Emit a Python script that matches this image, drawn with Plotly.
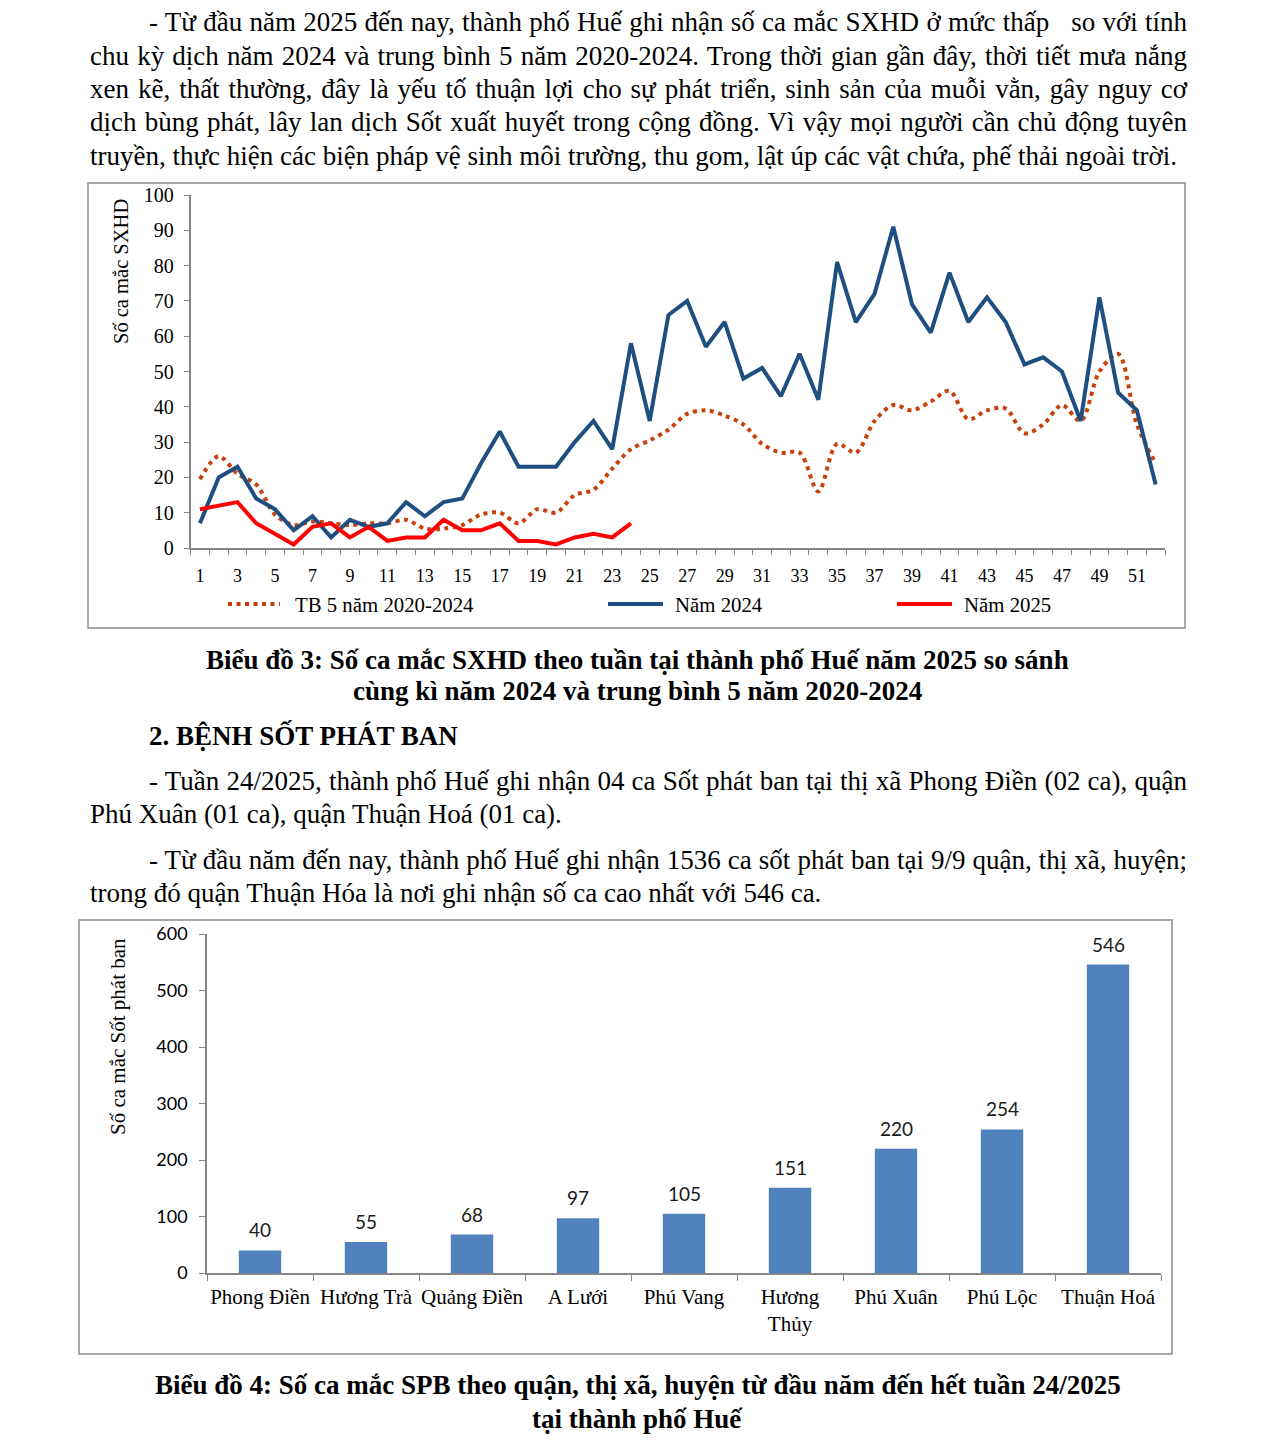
import json
import plotly.graph_objects as go

W, H = 1275, 1440

# ---------------- data ----------------
weeks = list(range(1, 53))
tb_5nam = [19.5, 26, 21, 18, 9.5, 6.5, 7.5, 7, 6.5, 7,
           7, 8, 5.5, 5.5, 6.5, 9.5, 10, 7, 11, 10,
           15, 16.5, 22.5, 28, 30.5, 33.5, 38, 39, 37.5, 35,
           29.5, 27, 27, 16, 29.5, 27, 36, 40.5, 39, 41.5,
           44.5, 36.5, 39, 39.5, 32.5, 35, 40.5, 36, 50, 55,
           35, 24]
nam_2024 = [7, 20, 23, 14, 11, 5, 9, 3, 8, 6,
            7, 13, 9, 13, 14, 24, 33, 23, 23, 23,
            30, 36, 28, 58, 36, 66, 70, 57, 64, 48,
            51, 43, 55, 42, 81, 64, 72, 91, 69, 61,
            78, 64, 71, 64, 52, 54, 50, 36, 71, 44,
            39, 18]
nam_2025 = [11, 12, 13, 7, 4, 1, 6, 7, 3, 6,
            2, 3, 3, 8, 5, 5, 7, 2, 2, 1,
            3, 4, 3, 7]
week_ticks = list(range(1, 52, 2))

districts = ["Phong Điền", "Hương Trà", "Quảng Điền", "A Lưới", "Phú Vang",
             "Hương Thủy", "Phú Xuân", "Phú Lộc", "Thuận Hoá"]
district_labels = ["Phong Điền", "Hương Trà", "Quảng Điền", "A Lưới", "Phú Vang",
                   "Hương<br>Thủy", "Phú Xuân", "Phú Lộc", "Thuận Hoá"]
spb_cases = [40, 55, 68, 97, 105, 151, 220, 254, 546]

para1 = [
    "- Từ đầu năm 2025 đến nay, thành phố Huế ghi nhận số ca mắc SXHD ở mức thấp   so với tính",
    "chu kỳ dịch năm 2024 và trung bình 5 năm 2020-2024. Trong thời gian gần đây, thời tiết mưa nắng",
    "xen kẽ, thất thường, đây là yếu tố thuận lợi cho sự phát triển, sinh sản của muỗi vằn, gây nguy cơ",
    "dịch bùng phát, lây lan dịch Sốt xuất huyết trong cộng đồng. Vì vậy mọi người cần chủ động tuyên",
    "truyền, thực hiện các biện pháp vệ sinh môi trường, thu gom, lật úp các vật chứa, phế thải ngoài trời.",
]
caption3 = ["Biểu đồ 3: Số ca mắc SXHD theo tuần tại thành phố Huế năm 2025 so sánh",
            "cùng kì năm 2024 và trung bình 5 năm 2020-2024"]
heading2 = "2. BỆNH SỐT PHÁT BAN"
para2 = ["- Tuần 24/2025, thành phố Huế ghi nhận 04 ca Sốt phát ban tại thị xã Phong Điền (02 ca), quận",
         "Phú Xuân (01 ca), quận Thuận Hoá (01 ca)."]
para3 = ["- Từ đầu năm đến nay, thành phố Huế ghi nhận 1536 ca sốt phát ban tại 9/9 quận, thị xã, huyện;",
         "trong đó quận Thuận Hóa là nơi ghi nhận số ca cao nhất với 546 ca."]
caption4 = ["Biểu đồ 4: Số ca mắc SPB theo quận, thị xã, huyện từ đầu năm đến hết tuần 24/2025",
            "tại thành phố Huế"]

# ---------------- helpers ----------------
def px(x):
    return x / W

def py(y):
    return 1 - y / H

SERIF = "Liberation Serif"
SANS = "Lato"
AXIS_GREY = "#868686"
TXT = 27

fig = go.Figure()

# ---------------- chart 1: lines ----------------
fig.add_trace(go.Scatter(x=weeks, y=tb_5nam, mode="lines", name="TB 5 năm 2020-2024",
                         line=dict(color="#C8400C", width=4, dash="4px,4.5px", shape="spline", smoothing=0.9),
                         xaxis="x", yaxis="y", showlegend=False))
fig.add_trace(go.Scatter(x=weeks, y=nam_2024, mode="lines", name="Năm 2024",
                         line=dict(color="#1F4E80", width=4),
                         xaxis="x", yaxis="y", showlegend=False))
fig.add_trace(go.Scatter(x=weeks[:len(nam_2025)], y=nam_2025, mode="lines", name="Năm 2025",
                         line=dict(color="#FF0000", width=4),
                         xaxis="x", yaxis="y", showlegend=False))

# ---------------- chart 2: bars ----------------
fig.add_trace(go.Bar(x=districts, y=spb_cases, marker=dict(color="#4F81BD", line=dict(width=0)),
                     width=0.4, xaxis="x2", yaxis="y2", showlegend=False))

annotations = []
justify = {}

def add_line(text, x, y, size=TXT, bold=False, anchor="left", target=None):
    t = "<b>%s</b>" % text if bold else text
    annotations.append(dict(text=t, x=px(x), y=py(y), xref="paper", yref="paper",
                            xanchor=anchor, yanchor="middle", showarrow=False,
                            align=anchor if anchor != "center" else "center",
                            borderpad=0,
                            font=dict(family=SERIF, size=size, color="#000000")))
    if target is not None:
        justify[len(annotations) - 1] = target

# paragraph 1
ys1 = [22, 55.5, 89, 122.5, 156]
for i, line in enumerate(para1):
    x0 = 148 if i == 0 else 89
    tgt = (1186 - x0) if i < len(para1) - 1 else None
    add_line(line, x0, ys1[i], target=tgt)

# caption 3
add_line(caption3[0], 637.5, 660, bold=True, anchor="center")
add_line(caption3[1], 637.5, 691, bold=True, anchor="center")
# heading 2
add_line(heading2, 148, 735, bold=True)
# para 2
add_line(para2[0], 148, 781, target=1186 - 148)
add_line(para2[1], 89, 814)
# para 3
add_line(para3[0], 148, 860, target=1186 - 148)
add_line(para3[1], 89, 893)
# caption 4
add_line(caption4[0], 637.5, 1385, bold=True, anchor="center")
add_line(caption4[1], 637.5, 1419, bold=True, anchor="center")

# axis titles (rotated)
annotations.append(dict(text="Số ca mắc SXHD", x=px(121), y=py(271), xref="paper", yref="paper",
                        textangle=-90, showarrow=False, xanchor="center", yanchor="middle",
                        font=dict(family=SERIF, size=20.5, color="#000000")))
annotations.append(dict(text="Số ca mắc Sốt phát ban", x=px(118), y=py(1037), xref="paper", yref="paper",
                        textangle=-90, showarrow=False, xanchor="center", yanchor="middle",
                        font=dict(family=SERIF, size=21, color="#000000")))

# bar value labels
for d, v in zip(districts, spb_cases):
    annotations.append(dict(text=str(v), x=d, y=v, xref="x2", yref="y2", showarrow=False,
                            xanchor="center", yanchor="bottom", yshift=7,
                            font=dict(family=SANS, size=19, color="#1a1a1a")))

# legend for chart 1 (manual)
legend_items = [("TB 5 năm 2020-2024", 228, 280, 293, "#C8400C", "4px,4.5px"),
                ("Năm 2024", 608, 663, 673, "#1F4E80", "solid"),
                ("Năm 2025", 897, 952, 962, "#FF0000", "solid")]
shapes = []
LEG_Y = 604
for name, a, b, tx, col, dash in legend_items:
    shapes.append(dict(type="line", xref="paper", yref="paper", x0=px(a), x1=px(b), y0=py(LEG_Y), y1=py(LEG_Y),
                       line=dict(color=col, width=4, dash=dash)))
    annotations.append(dict(text=name, x=px(tx), y=py(LEG_Y), xref="paper", yref="paper", showarrow=False,
                            xanchor="left", yanchor="middle",
                            font=dict(family=SERIF, size=20.8, color="#000000")))

# chart borders
shapes.append(dict(type="rect", xref="paper", yref="paper", x0=px(88), x1=px(1185), y0=py(628), y1=py(183),
                   line=dict(color="#8C8C8C", width=1.5), layer="below"))
shapes.append(dict(type="rect", xref="paper", yref="paper", x0=px(79), x1=px(1172), y0=py(1354), y1=py(920),
                   line=dict(color="#8C8C8C", width=1.5), layer="below"))

fig.update_layout(
    width=W, height=H, autosize=False,
    margin=dict(l=0, r=0, t=0, b=0, pad=0, autoexpand=False),
    paper_bgcolor="white", plot_bgcolor="white",
    showlegend=False,
    annotations=annotations,
    shapes=shapes,
    xaxis=dict(domain=[px(190.6), px(1165)], range=[0.5, 52.5], tickmode="array", tickvals=week_ticks,
               ticktext=[str(v) for v in week_ticks], ticks="", showgrid=False, zeroline=False,
               showline=True, linecolor=AXIS_GREY, linewidth=1.5, anchor="y", automargin=False,
               ticklabelstandoff=11,
               tickfont=dict(family=SERIF, size=18, color="#000000"),
               minor=dict(tick0=0.5, dtick=1, ticks="outside", ticklen=5, tickcolor=AXIS_GREY, showgrid=False)),
    yaxis=dict(domain=[py(548), py(195)], range=[0, 100], dtick=10, ticks="outside", ticklen=5,
               tickcolor=AXIS_GREY, showgrid=False, zeroline=False, showline=True, linecolor=AXIS_GREY,
               linewidth=1.5, anchor="x", ticklabelstandoff=6, automargin=False,
               tickfont=dict(family=SERIF, size=20, color="#000000")),
    xaxis2=dict(domain=[px(207), px(1161)], type="category", tickmode="array", tickvals=districts,
                ticktext=district_labels, tickson="boundaries", ticks="outside", ticklen=6,
                tickangle=0, automargin=False,
                tickcolor=AXIS_GREY, showgrid=False, zeroline=False, showline=True, linecolor=AXIS_GREY,
                linewidth=1.5, anchor="y2", ticklabelstandoff=4,
                tickfont=dict(family=SERIF, size=21, color="#000000")),
    yaxis2=dict(domain=[py(1273), py(934)], range=[0, 600], dtick=100, ticks="outside", ticklen=6,
                tickcolor=AXIS_GREY, showgrid=False, zeroline=False, showline=True, linecolor=AXIS_GREY,
                linewidth=1.5, anchor="x2", ticklabelstandoff=8, automargin=False,
                tickfont=dict(family=SANS, size=18, color="#000000")),
)

js = """
document.documentElement.style.margin = '0';
document.documentElement.style.overflow = 'hidden';
document.body.style.margin = '0';
document.body.style.padding = '0';
document.body.style.overflow = 'hidden';
var gd = document.getElementById('{plot_id}');
var targets = %s;
function justifyLines(){
  Object.keys(targets).forEach(function(k){
    var g = gd.querySelector('.annotation[data-index="' + k + '"]');
    if(!g) return;
    var t = g.querySelector('text.annotation-text');
    if(!t) return;
    t.style.wordSpacing = '0px';
    var nat = t.getComputedTextLength();
    var n = (t.textContent.match(/ /g) || []).length;
    if(n > 0){ t.style.wordSpacing = ((targets[k] - nat) / n) + 'px'; }
  });
}
justifyLines();
""" % json.dumps({str(k): v for k, v in justify.items()})

fig.write_html("out.html", post_script=js, config={"responsive": False, "displayModeBar": False})
